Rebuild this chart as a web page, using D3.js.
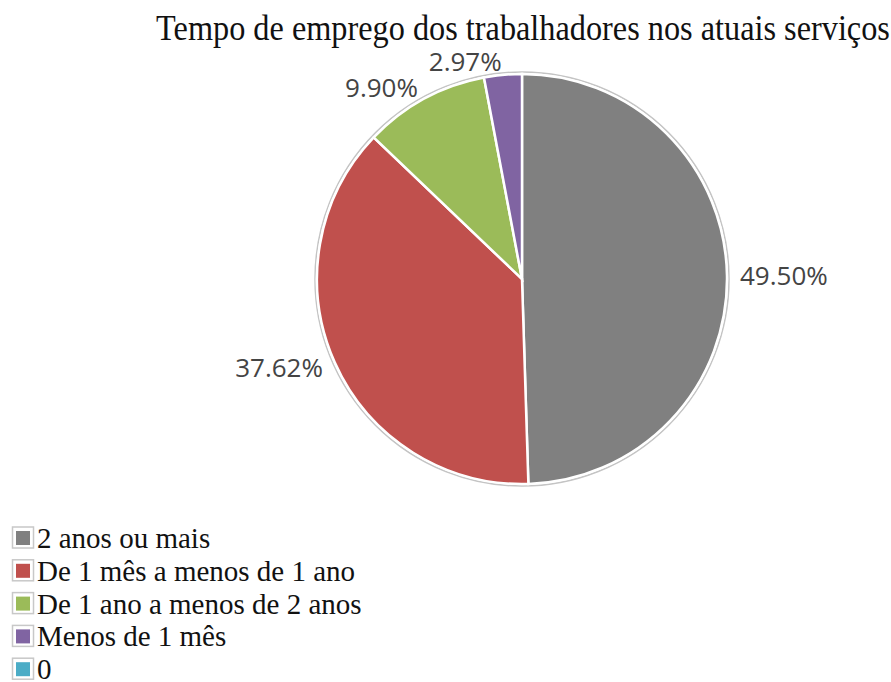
<!DOCTYPE html>
<html>
<head>
<meta charset="utf-8">
<script src="https://cdn.jsdelivr.net/npm/d3@7"></script>
<style>
  body { margin: 0; background: #fff; }
</style>
</head>
<body>
<div id="chart"></div>
<script>
// respondents per category (101 total)
var categories = ["2 anos ou mais", "De 1 mês a menos de 1 ano", "De 1 ano a menos de 2 anos", "Menos de 1 mês", "0"];
var counts = [50, 38, 10, 3, 0];
var colors = ["#808080", "#c0504d", "#9bbb59", "#8064a2", "#4bacc6"];
var title = "Tempo de emprego dos trabalhadores nos atuais serviços";

var width = 891, height = 682;
var cx = 522, cy = 279, radius = 205;

var total = d3.sum(counts);
var fmt = function(v) { return (v / total * 100).toFixed(2) + "%"; };

var data = categories.map(function(c, i) { return { name: c, value: counts[i], color: colors[i] }; });

var svg = d3.select("#chart")
  .append("svg")
    .attr("width", width)
    .attr("height", height)
    .style("background", "white");

svg.append("text")
    .attr("transform", "translate(523,40) scale(1,1.1)")
    .attr("text-anchor", "middle")
    .style("font-family", "'Liberation Serif', 'Times New Roman', serif")
    .style("font-size", "32.3px")
    .style("fill", "#111")
    .text(title);

var pie = d3.pie()
    .sort(null)
    .value(function(d) { return d.value; });

var arc = d3.arc()
    .innerRadius(0)
    .outerRadius(radius);

var arcs = pie(data).filter(function(d) { return d.value > 0; });

var g = svg.append("g")
    .attr("transform", "translate(" + cx + "," + cy + ")");

// faint outer ring
g.append("circle")
    .attr("r", radius + 2)
    .style("fill", "none")
    .style("stroke", "#c4c4c4")
    .style("stroke-width", 1.5);

g.selectAll(".slice")
    .data(arcs)
  .enter().append("path")
    .attr("class", "slice")
    .attr("d", arc)
    .style("fill", function(d) { return d.data.color; })
    .style("stroke", "white")
    .style("stroke-width", 2.5);

// labels outside end
var labelR = radius + 13;
var mid = function(d) { return (d.startAngle + d.endAngle) / 2; };
g.selectAll(".lbl")
    .data(arcs)
  .enter().append("text")
    .attr("class", "lbl")
    .attr("x", function(d) { return Math.sin(mid(d)) * labelR; })
    .attr("y", function(d) { return -Math.cos(mid(d)) * labelR; })
    .attr("dy", "0.35em")
    .attr("text-anchor", function(d) { return Math.sin(mid(d)) >= 0 ? "start" : "end"; })
    .style("font-family", "'Open Sans', 'Noto Sans', sans-serif")
    .style("font-size", "26px")
    .style("fill", "#444")
    .text(function(d) { return fmt(d.value); });

// legend
var legend = svg.append("g")
    .attr("transform", "translate(0,548)");

var rows = legend.selectAll(".row")
    .data(data)
  .enter().append("g")
    .attr("class", "row")
    .attr("transform", function(d, i) { return "translate(0," + (i * 32.8) + ")"; });

rows.append("rect")
    .attr("x", 12.5)
    .attr("y", -21)
    .attr("width", 21)
    .attr("height", 21)
    .style("fill", "none")
    .style("stroke", "#c8c8c8")
    .style("stroke-width", 1.5);

rows.append("rect")
    .attr("x", 16)
    .attr("y", -17)
    .attr("width", 14)
    .attr("height", 14)
    .style("fill", function(d) { return d.color; });

rows.append("text")
    .attr("x", 37)
    .attr("y", 0)
    .style("font-family", "'Liberation Serif', 'Times New Roman', serif")
    .style("font-size", "29px")
    .style("fill", "#111")
    .text(function(d) { return d.name; });
</script>
</body>
</html>
